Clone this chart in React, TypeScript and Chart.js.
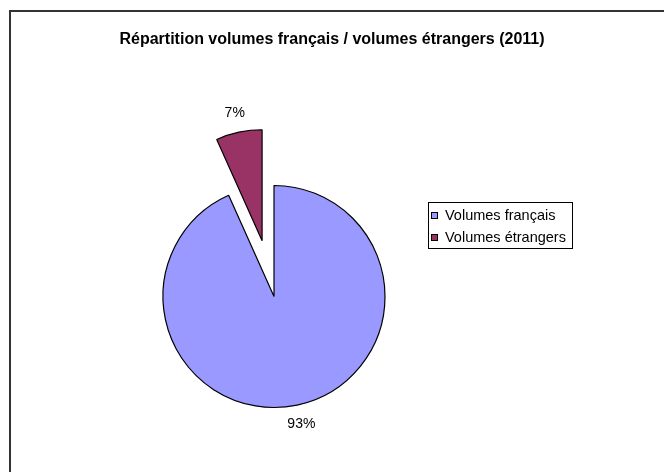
import React, { useEffect, useRef } from "react";
import { Chart, registerables } from "chart.js";

Chart.register(...registerables);

const chartTitle = "Répartition volumes français / volumes étrangers (2011)";
const categories = ["Volumes français", "Volumes étrangers"];
const shares = [93.3, 6.7];
const sliceColors = ["#9999FF", "#993366"];
const explodedIndex = 1;

const FONT = '"Liberation Sans", Arial, sans-serif';

const explodePlugin = {
  id: "explodeSlice",
  afterDatasetsUpdate(chart: any, _args: any, opts: any) {
    const meta = chart.getDatasetMeta(0);
    const arc: any = meta.data[opts.index];
    if (!arc) return;
    const mid = (arc.startAngle + arc.endAngle) / 2;
    arc.x += Math.cos(mid) * opts.distance;
    arc.y += Math.sin(mid) * opts.distance;
  },
};

const decorPlugin = {
  id: "decor",
  beforeDraw(chart: any) {
    const ctx = chart.ctx;
    ctx.save();
    ctx.strokeStyle = "#333333";
    ctx.lineWidth = 2;
    ctx.beginPath();
    ctx.moveTo(10, chart.height);
    ctx.lineTo(10, 11);
    ctx.lineTo(chart.width, 11);
    ctx.stroke();
    ctx.fillStyle = "#000";
    ctx.font = `bold 16px ${FONT}`;
    ctx.textAlign = "center";
    ctx.textBaseline = "middle";
    ctx.fillText(chartTitle, 332, 40);
    ctx.restore();
  },
  afterDatasetsDraw(chart: any) {
    const ctx = chart.ctx;
    const meta = chart.getDatasetMeta(0);
    const values: number[] = chart.data.datasets[0].data;
    const total = values.reduce((a, b) => a + b, 0);
    ctx.save();
    ctx.fillStyle = "#000";
    ctx.font = `14px ${FONT}`;
    ctx.textAlign = "center";
    ctx.textBaseline = "middle";
    meta.data.forEach((arc: any, i: number) => {
      const mid = (arc.startAngle + arc.endAngle) / 2;
      const r = arc.outerRadius + 20;
      const txt = Math.round((values[i] / total) * 100) + "%";
      ctx.fillText(txt, arc.x + Math.cos(mid) * r, arc.y + Math.sin(mid) * r);
    });
    // legend
    const lx = 428, ly = 202, lw = 144, lh = 46;
    ctx.lineWidth = 1;
    ctx.strokeStyle = "#000";
    ctx.strokeRect(lx + 0.5, ly + 0.5, lw, lh);
    ctx.textAlign = "left";
    ctx.font = `14.5px ${FONT}`;
    categories.forEach((c, i) => {
      const cy = ly + 13 + i * 22;
      ctx.fillStyle = sliceColors[i];
      ctx.fillRect(431, cy - 3, 7, 7);
      ctx.strokeStyle = "#000";
      ctx.strokeRect(431.5, cy - 2.5, 6, 6);
      ctx.fillStyle = "#000";
      ctx.fillText(c, 445, cy + 1);
    });
    ctx.restore();
  },
};

export default function App() {
  const canvasRef = useRef<HTMLCanvasElement | null>(null);

  useEffect(() => {
    if (!canvasRef.current) return;
    const chart = new Chart(canvasRef.current, {
      type: "pie",
      data: {
        labels: categories,
        datasets: [
          {
            data: shares,
            backgroundColor: sliceColors,
            borderColor: "#000000",
            borderWidth: 1.2,
            clip: false as any,
          },
        ],
      },
      options: {
        responsive: false,
        animation: false,
        events: [],
        radius: 111,
        layout: { padding: { left: 0, right: 116, top: 121, bottom: 0 } },
        plugins: {
          legend: { display: false },
          title: { display: false },
          tooltip: { enabled: false },
          explodeSlice: { index: explodedIndex, distance: 57 },
        } as any,
      } as any,
      plugins: [explodePlugin, decorPlugin],
    });
    return () => chart.destroy();
  }, []);

  return (
    <div style={{ position: "fixed", left: 0, top: 0, width: 664, height: 472, background: "#fff" }}>
      <canvas ref={canvasRef} width={664} height={472} style={{ width: 664, height: 472 }} />
    </div>
  );
}
